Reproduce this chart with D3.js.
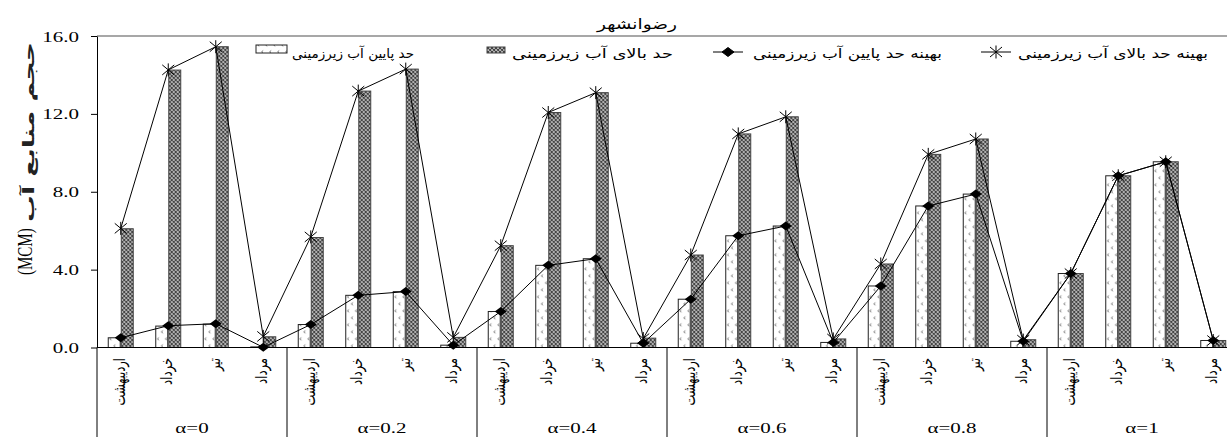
<!DOCTYPE html>
<html>
<head>
<meta charset="utf-8">
<script src="https://cdn.jsdelivr.net/npm/d3@7"></script>
<style>
  body { margin: 0; background: #fff; }
  svg { display: block; }
</style>
</head>
<body>
<svg id="chart" width="1227" height="437"></svg>
<script>
// ---- data (MCM) ----
const alphaLevels = ["α=0", "α=0.2", "α=0.4", "α=0.6", "α=0.8", "α=1"];
const months = ["اردیبهشت", "خرداد", "تیر", "مرداد"];

// groundwater lower bound, one row of four months per alpha level
const lowerBound = [
  0.50, 1.10, 1.20, 0.03,
  1.18, 2.68, 2.87, 0.12,
  1.85, 4.22, 4.56, 0.22,
  2.48, 5.74, 6.24, 0.26,
  3.16, 7.27, 7.88, 0.32,
  3.80, 8.82, 9.54, 0.36
];
// groundwater upper bound
const upperBound = [
  6.10, 14.25, 15.45, 0.55,
  5.65, 13.17, 14.30, 0.52,
  5.23, 12.07, 13.09, 0.48,
  4.75, 10.97, 11.85, 0.44,
  4.29, 9.92, 10.71, 0.40,
  3.80, 8.82, 9.54, 0.36
];
// optimised lower bound
const optimumLower = [
  0.50, 1.12, 1.22, 0.01,
  1.18, 2.68, 2.87, 0.12,
  1.85, 4.22, 4.56, 0.22,
  2.48, 5.74, 6.24, 0.26,
  3.16, 7.27, 7.88, 0.32,
  3.80, 8.82, 9.54, 0.36
];
// optimised upper bound
const optimumUpper = [
  6.12, 14.26, 15.45, 0.57,
  5.68, 13.17, 14.30, 0.52,
  5.23, 12.07, 13.09, 0.46,
  4.75, 10.97, 11.85, 0.44,
  4.29, 9.92, 10.71, 0.38,
  3.80, 8.82, 9.54, 0.36
];
const yTicks = [0, 4, 8, 12, 16];

const chartTitle = "رضوانشهر";
const yTitle = "حجم منابع آب";
const yUnit = "(MCM)";
const legendNames = {
  optUpper: "بهینه حد بالای آب زیرزمینی",
  optLower: "بهینه حد پایین آب زیرزمینی",
  upper: "حد بالای آب زیرزمینی",
  lower: "حد پایین آب زیرزمینی"
};

// ---- layout ----
const SX = 1.4;                 // horizontal text stretch
const plotL = 97, plotR = 1237, plotT = 36, plotB = 347.5;
const serif = "'Liberation Serif', 'Times New Roman', serif";
const sans = "'DejaVu Sans', sans-serif";

const rows = [];
alphaLevels.forEach((a, i) => months.forEach((m, j) => {
  const k = i * months.length + j;
  rows.push({ key: k, alpha: a, month: m,
    lo: lowerBound[k], up: upperBound[k],
    optLo: optimumLower[k], optUp: optimumUpper[k] });
}));

const svg = d3.select("#chart");
const x = d3.scaleBand().domain(rows.map(d => d.key)).range([plotL, plotR]);
const y = d3.scaleLinear().domain([0, 16]).range([plotB, plotT]);
const cx = k => x(k) + x.bandwidth() / 2;
const pairW = 25;
const x1 = d3.scaleBand().domain(["lo", "up"]).range([0, pairW]).paddingInner(0.08);

// ---- fill patterns ----
const defs = svg.append("defs");
const pUp = defs.append("pattern").attr("id", "patUpper")
  .attr("patternUnits", "userSpaceOnUse").attr("width", 4).attr("height", 4);
pUp.append("rect").attr("width", 4).attr("height", 4).attr("fill", "#fff");
pUp.append("path").attr("d", "M0,0L4,4M4,0L0,4M-1,3L1,5M3,-1L5,1M-1,1L1,-1M3,5L5,3")
  .attr("stroke", "#444").attr("stroke-width", 1.3);

const pLo = defs.append("pattern").attr("id", "patLower")
  .attr("patternUnits", "userSpaceOnUse").attr("width", 8).attr("height", 14);
pLo.append("rect").attr("width", 8).attr("height", 14).attr("fill", "#fff");
pLo.append("path").attr("d", "M3.2,1.5l-1.6,1.4l1.6,1.4M7.2,8.5l-1.6,1.4l1.6,1.4")
  .attr("fill", "none").attr("stroke", "#666").attr("stroke-width", 0.9);

// ---- frame ----
svg.append("line").attr("x1", plotL).attr("x2", plotR).attr("y1", plotT).attr("y2", plotT)
  .attr("stroke", "#8a8a8a").attr("stroke-width", 1.5);

// ---- bars ----
const barG = svg.append("g");
const cat = barG.selectAll("g.cat").data(rows).join("g").attr("class", "cat")
  .attr("transform", d => `translate(${cx(d.key) - pairW / 2},0)`);
cat.append("rect")
  .attr("x", x1("lo")).attr("width", x1.bandwidth())
  .attr("y", d => y(d.lo)).attr("height", d => y(0) - y(d.lo))
  .attr("fill", "url(#patLower)").attr("stroke", "#222").attr("stroke-width", 1);
cat.append("rect")
  .attr("x", x1("up")).attr("width", x1.bandwidth())
  .attr("y", d => y(d.up)).attr("height", d => y(0) - y(d.up))
  .attr("fill", "url(#patUpper)").attr("stroke", "#444").attr("stroke-width", 1);

// ---- optimum lines ----
const starPath = "M-6,-5L6,5M-6,5L6,-5M0,-6.5L0,6.5";
const diamondPath = "M-6,0L0,-4.5L6,0L0,4.5Z";
const lineUp = d3.line().x(d => cx(d.key)).y(d => y(d.optUp));
const lineLo = d3.line().x(d => cx(d.key)).y(d => y(d.optLo));
svg.append("path").datum(rows).attr("d", lineUp)
  .attr("fill", "none").attr("stroke", "#000").attr("stroke-width", 1);
svg.append("path").datum(rows).attr("d", lineLo)
  .attr("fill", "none").attr("stroke", "#000").attr("stroke-width", 1);
svg.append("g").selectAll("path").data(rows).join("path")
  .attr("transform", d => `translate(${cx(d.key)},${y(d.optUp)})`)
  .attr("d", starPath).attr("fill", "none").attr("stroke", "#000").attr("stroke-width", 1);
svg.append("g").selectAll("path").data(rows).join("path")
  .attr("transform", d => `translate(${cx(d.key)},${y(d.optLo)})`)
  .attr("d", diamondPath).attr("fill", "#000");

// ---- y axis ----
const yAxis = svg.append("g").attr("transform", `translate(${plotL},0)`)
  .call(d3.axisLeft(y).tickValues(yTicks).tickFormat(d3.format(".1f"))
    .tickSize(6).tickSizeOuter(0));
yAxis.select(".domain").attr("stroke", "#000");
yAxis.selectAll(".tick line").attr("stroke", "#000");
yAxis.selectAll(".tick text")
  .attr("x", 0).attr("dy", "0.34em")
  .attr("transform", `translate(-18,0) scale(${SX},1)`)
  .attr("font-family", serif).attr("font-size", 15).attr("fill", "#000");

// ---- x axis baseline and group separators ----
svg.append("line").attr("x1", plotL).attr("x2", plotR).attr("y1", plotB).attr("y2", plotB)
  .attr("stroke", "#000").attr("stroke-width", 1.2);
const groupW = x.bandwidth() * months.length;
svg.append("g").selectAll("line").data(d3.range(alphaLevels.length + 1)).join("line")
  .attr("x1", i => plotL + i * groupW).attr("x2", i => plotL + i * groupW)
  .attr("y1", plotB).attr("y2", 437).attr("stroke", "#000").attr("stroke-width", 1);

// month labels (vertical)
svg.append("g").selectAll("text").data(rows).join("text")
  .attr("transform", d => `translate(${cx(d.key) + 4},358) scale(${SX},1) rotate(-90)`)
  .attr("text-anchor", "end")
  .attr("font-family", sans).attr("font-size", 11.5).attr("fill", "#000")
  .text(d => d.month);

// alpha labels
svg.append("g").selectAll("text").data(alphaLevels).join("text")
  .attr("transform", (d, i) => `translate(${plotL + (i + 0.5) * groupW},433) scale(${SX},1)`)
  .attr("text-anchor", "middle")
  .attr("font-family", serif).attr("font-size", 15).attr("fill", "#000")
  .text(d => d);

// ---- titles ----
svg.append("text")
  .attr("transform", `translate(637,29) scale(${SX},1)`)
  .attr("text-anchor", "middle").attr("font-family", sans).attr("font-size", 14)
  .attr("textLength", 80 / SX).attr("lengthAdjust", "spacingAndGlyphs")
  .text(chartTitle);

// vertical axis title: Arabic part above, unit below
svg.append("text")
  .attr("transform", `translate(34,42) scale(0.68,1) rotate(-90)`)
  .attr("text-anchor", "end")
  .attr("font-family", sans).attr("font-weight", "bold").attr("font-size", 23)
  .attr("textLength", 180).attr("lengthAdjust", "spacingAndGlyphs")
  .attr("fill", "#222")
  .text(yTitle);
svg.append("text")
  .attr("transform", `translate(32,275) scale(${SX},1) rotate(-90)`)
  .attr("text-anchor", "start")
  .attr("font-family", serif).attr("font-size", 15)
  .text(yUnit);

// ---- legend ----
const legendItems = [
  { key: "optUpper", rightX: 1208, width: 190, gap: 7, type: "star" },
  { key: "optLower", rightX: 942, width: 189, gap: 10, type: "diamond" },
  { key: "upper", rightX: 673, width: 161, gap: 7, type: "upper" },
  { key: "lower", rightX: 414, width: 122, gap: 5, type: "lower" }
];
const legY = 58;
const lg = svg.append("g");
legendItems.forEach(it => {
  lg.append("text")
    .attr("transform", `translate(${it.rightX},${legY}) scale(${SX},1)`)
    .attr("text-anchor", "end").attr("font-family", sans).attr("font-size", 13)
    .attr("textLength", it.width / SX).attr("lengthAdjust", "spacingAndGlyphs")
    .text(legendNames[it.key]);
  const sx = it.rightX - it.width - it.gap;
  if (it.type === "star" || it.type === "diamond") {
    lg.append("line").attr("x1", sx - 30).attr("x2", sx).attr("y1", legY - 6).attr("y2", legY - 6)
      .attr("stroke", "#000").attr("stroke-width", 1);
    lg.append("path").attr("transform", `translate(${sx - 15},${legY - 6})`)
      .attr("d", it.type === "star" ? starPath : diamondPath)
      .attr("fill", it.type === "star" ? "none" : "#000").attr("stroke", "#000");
  } else if (it.type === "upper") {
    lg.append("rect").attr("x", sx - 18).attr("y", legY - 11).attr("width", 18).attr("height", 6)
      .attr("fill", "url(#patUpper)").attr("stroke", "#444");
  } else {
    lg.append("rect").attr("x", sx - 31).attr("y", legY - 13).attr("width", 31).attr("height", 8)
      .attr("fill", "url(#patLower)").attr("stroke", "#222");
  }
});
</script>
</body>
</html>
